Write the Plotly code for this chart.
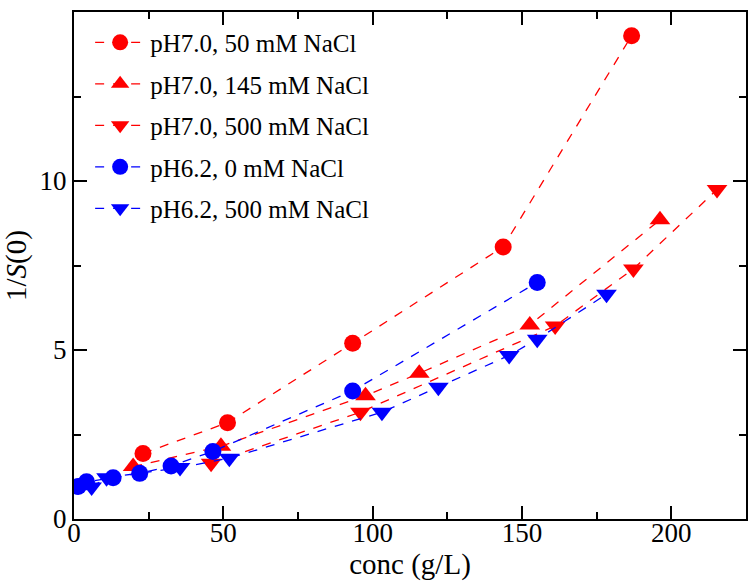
import plotly.graph_objects as go

# pH7.0, 50 mM NaCl
c_ph70_50 = [23.1, 51.4, 93.3, 143.7, 186.7]
s_ph70_50 = [1.94, 2.85, 5.2, 8.05, 14.3]

# pH7.0, 145 mM NaCl
c_ph70_145 = [19.8, 49.2, 97.6, 115.6, 152.6, 196.2]
s_ph70_145 = [1.55, 2.15, 3.65, 4.31, 5.74, 8.85]

# pH7.0, 500 mM NaCl
c_ph70_500 = [45.9, 95.9, 161.1, 187.3, 215.3]
s_ph70_500 = [1.65, 3.16, 5.71, 7.4, 9.75]

# pH6.2, 0 mM NaCl
c_ph62_0 = [1.4, 4.2, 13.1, 22.0, 32.5, 46.5, 93.3, 155.1]
s_ph62_0 = [0.96, 1.1, 1.22, 1.35, 1.57, 2.0, 3.79, 7.0]

# pH6.2, 500 mM NaCl
c_ph62_500 = [5.9, 10.9, 35.5, 52.0, 103.1, 122.0, 145.7, 155.1, 178.3]
s_ph62_500 = [0.95, 1.22, 1.52, 1.8, 3.16, 3.9, 4.84, 5.32, 6.65]

series = [
    ('pH7.0, 50 mM NaCl', c_ph70_50, s_ph70_50, 'red', 'circle'),
    ('pH7.0, 145 mM NaCl', c_ph70_145, s_ph70_145, 'red', 'triangle-up'),
    ('pH7.0, 500 mM NaCl', c_ph70_500, s_ph70_500, 'red', 'triangle-down'),
    ('pH6.2, 0 mM NaCl', c_ph62_0, s_ph62_0, 'blue', 'circle'),
    ('pH6.2, 500 mM NaCl', c_ph62_500, s_ph62_500, 'blue', 'triangle-down'),
]

serif = 'Liberation Serif'

fig = go.Figure()
for i, (name, xs, ys, color, symbol) in enumerate(series):
    fig.add_trace(go.Scatter(
        x=xs, y=ys, name=name, mode='lines+markers',
        legendgroup=f'g{i}',
        line=dict(color=color, width=1.3, dash='dash'),
        marker=dict(color=color, symbol=symbol, size=17 if symbol == 'circle' else 18),
    ))


def axis(rng, step, minor_step, title, standoff, label_shift):
    return dict(
        range=rng, dtick=step, tick0=0,
        showgrid=False, zeroline=False,
        showline=True, linecolor='black', linewidth=2, mirror='allticks',
        ticks='inside', ticklen=13, tickwidth=2, tickcolor='black',
        ticklabelstandoff=label_shift,
        tickfont=dict(family=serif, size=27, color='black'),
        minor=dict(dtick=minor_step, tick0=0, ticks='inside', ticklen=7,
                   tickwidth=2, tickcolor='black', showgrid=False),
        title=dict(text=title, font=dict(family=serif, size=29, color='black'),
                   standoff=standoff),
    )


fig.update_layout(
    template='simple_white',
    width=750, height=587,
    margin=dict(l=74, r=2, t=12, b=68),
    plot_bgcolor='white', paper_bgcolor='white',
    xaxis=axis([0, 225], 50, 25, 'conc (g/L)', 6, -11),
    yaxis=axis([0, 15], 5, 2.5, '1/<i>S</i>(0)', 6, 0),
    legend=dict(
        x=0.024, y=0.985, xanchor='left', yanchor='top',
        font=dict(family=serif, size=25, color='black'),
        bgcolor='rgba(0,0,0,0)', tracegroupgap=6, itemwidth=50,
    ),
)

fig.write_html("out.html", config={'displayModeBar': False},
               post_script="document.body.style.margin='0';")
